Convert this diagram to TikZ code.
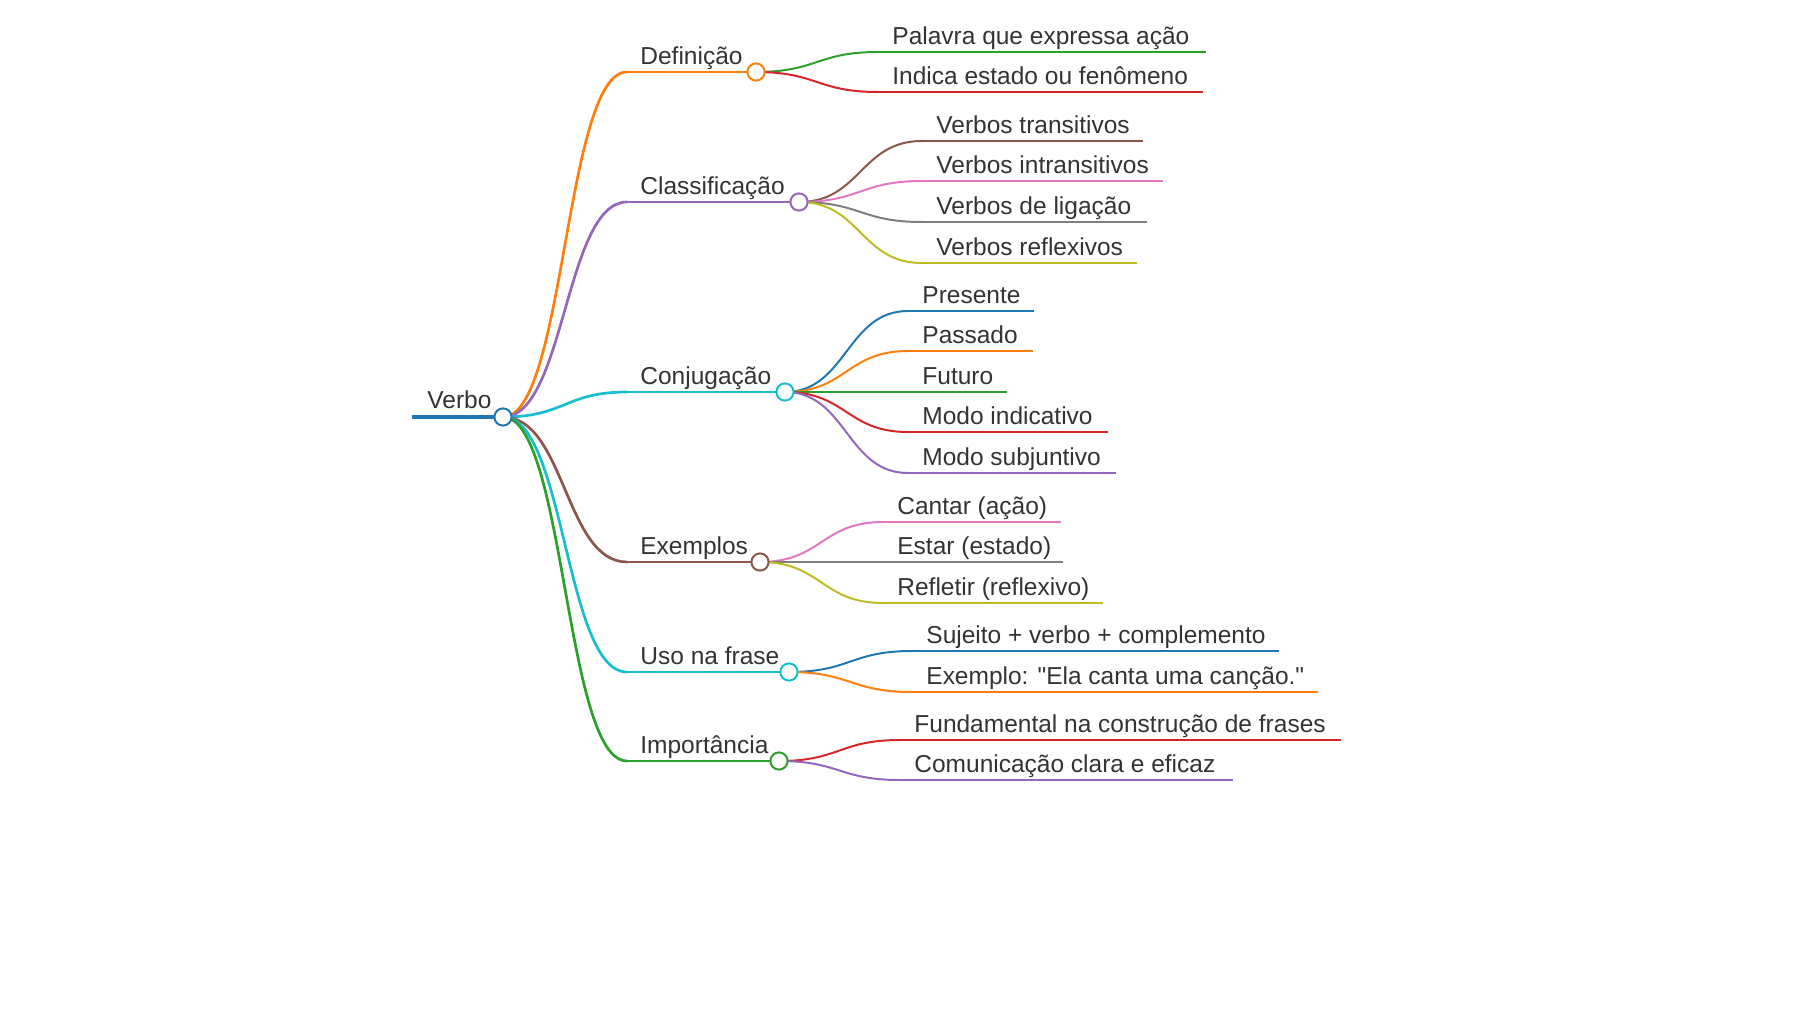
\documentclass[tikz,border=0pt]{standalone}
\usepackage{fontspec}
\setmainfont{Liberation Sans}[Ligatures=TeXOff]
\usetikzlibrary{calc}
\definecolor{c0}{HTML}{1F77B4}
\definecolor{c1}{HTML}{FF7F0E}
\definecolor{c2}{HTML}{2CA02C}
\definecolor{c3}{HTML}{D62728}
\definecolor{c4}{HTML}{9467BD}
\definecolor{c5}{HTML}{8C564B}
\definecolor{c6}{HTML}{E377C2}
\definecolor{c7}{HTML}{7F7F7F}
\definecolor{c8}{HTML}{BCBD22}
\definecolor{c9}{HTML}{17BECF}
\definecolor{txt}{HTML}{333333}
\newcommand{\mmlink}[4]{%
  \draw[#3, line width=#4, line cap=round] let \p1=(#1), \p2=(#2) in
    (\p1) .. controls ({(\x1+\x2)/2},\y1) and ({(\x1+\x2)/2},\y2) .. (\p2);}
\tikzset{
  lbl/.style={anchor=base west, inner sep=0pt, text=txt, font=\fontsize{12.25pt}{14pt}\selectfont},
  dot/.style={circle, draw=#1, fill=white, line width=1pt, minimum size=8.6pt, inner sep=0pt},
  lw0/.style={line width=1.75pt},
  lw1/.style={line width=1.35pt},
  lw2/.style={line width=1pt},
}
\begin{document}
\begin{tikzpicture}[x=0.5pt, y=-0.5pt]
\useasboundingbox (0,0) rectangle (1800,1012);
% ---- coordinates
\coordinate (root-s) at (412,417); \coordinate (root) at (503,417);
\coordinate (def-s) at (627,72);   \coordinate (def) at (756,72);
\coordinate (cla-s) at (627,202);  \coordinate (cla) at (799,202);
\coordinate (con-s) at (627,392);  \coordinate (con) at (785,392);
\coordinate (exe-s) at (627,562);  \coordinate (exe) at (760,562);
\coordinate (uso-s) at (627,672);  \coordinate (uso) at (789,672);
\coordinate (imp-s) at (627,761);  \coordinate (imp) at (779,761);
% leaves
\coordinate (a1-s) at (878,52);  \coordinate (a1-e) at (1206,52);
\coordinate (a2-s) at (878,92);  \coordinate (a2-e) at (1203,92);
\coordinate (b1-s) at (922,141); \coordinate (b1-e) at (1143,141);
\coordinate (b2-s) at (922,181); \coordinate (b2-e) at (1163,181);
\coordinate (b3-s) at (922,222); \coordinate (b3-e) at (1147,222);
\coordinate (b4-s) at (922,263); \coordinate (b4-e) at (1137,263);
\coordinate (d1-s) at (908,311); \coordinate (d1-e) at (1034,311);
\coordinate (d2-s) at (908,351); \coordinate (d2-e) at (1033,351);
\coordinate (d3-s) at (908,392); \coordinate (d3-e) at (1007,392);
\coordinate (d4-s) at (908,432); \coordinate (d4-e) at (1108,432);
\coordinate (d5-s) at (908,473); \coordinate (d5-e) at (1116,473);
\coordinate (e1-s) at (883,522); \coordinate (e1-e) at (1061,522);
\coordinate (e2-s) at (883,562); \coordinate (e2-e) at (1063,562);
\coordinate (e3-s) at (883,603); \coordinate (e3-e) at (1103,603);
\coordinate (f1-s) at (912,651); \coordinate (f1-e) at (1279,651);
\coordinate (f2-s) at (912,692); \coordinate (f2-e) at (1318,692);
\coordinate (g1-s) at (900,740); \coordinate (g1-e) at (1341,740);
\coordinate (g2-s) at (900,780); \coordinate (g2-e) at (1233,780);
% ---- links
\mmlink{root}{def-s}{c1}{1.35pt}
\mmlink{root}{cla-s}{c4}{1.35pt}
\mmlink{root}{con-s}{c9}{1.35pt}
\mmlink{root}{exe-s}{c5}{1.35pt}
\mmlink{root}{uso-s}{c9}{1.35pt}
\mmlink{root}{imp-s}{c2}{1.35pt}
\mmlink{def}{a1-s}{c2}{1pt}
\mmlink{def}{a2-s}{c3}{1pt}
\mmlink{cla}{b1-s}{c5}{1pt}
\mmlink{cla}{b2-s}{c6}{1pt}
\mmlink{cla}{b3-s}{c7}{1pt}
\mmlink{cla}{b4-s}{c8}{1pt}
\mmlink{con}{d1-s}{c0}{1pt}
\mmlink{con}{d2-s}{c1}{1pt}
\mmlink{con}{d3-s}{c2}{1pt}
\mmlink{con}{d4-s}{c3}{1pt}
\mmlink{con}{d5-s}{c4}{1pt}
\mmlink{exe}{e1-s}{c6}{1pt}
\mmlink{exe}{e2-s}{c7}{1pt}
\mmlink{exe}{e3-s}{c8}{1pt}
\mmlink{uso}{f1-s}{c0}{1pt}
\mmlink{uso}{f2-s}{c1}{1pt}
\mmlink{imp}{g1-s}{c3}{1pt}
\mmlink{imp}{g2-s}{c4}{1pt}
% ---- underlines
\draw[c0, lw0] (root-s) -- (root);
\draw[c1, lw1] (def-s) -- (def);
\draw[c4, lw1] (cla-s) -- (cla);
\draw[c9, lw1] (con-s) -- (con);
\draw[c5, lw1] (exe-s) -- (exe);
\draw[c9, lw1] (uso-s) -- (uso);
\draw[c2, lw1] (imp-s) -- (imp);
\draw[c2, lw2] (a1-s) -- (a1-e);
\draw[c3, lw2] (a2-s) -- (a2-e);
\draw[c5, lw2] (b1-s) -- (b1-e);
\draw[c6, lw2] (b2-s) -- (b2-e);
\draw[c7, lw2] (b3-s) -- (b3-e);
\draw[c8, lw2] (b4-s) -- (b4-e);
\draw[c0, lw2] (d1-s) -- (d1-e);
\draw[c1, lw2] (d2-s) -- (d2-e);
\draw[c2, lw2] (d3-s) -- (d3-e);
\draw[c3, lw2] (d4-s) -- (d4-e);
\draw[c4, lw2] (d5-s) -- (d5-e);
\draw[c6, lw2] (e1-s) -- (e1-e);
\draw[c7, lw2] (e2-s) -- (e2-e);
\draw[c8, lw2] (e3-s) -- (e3-e);
\draw[c0, lw2] (f1-s) -- (f1-e);
\draw[c1, lw2] (f2-s) -- (f2-e);
\draw[c3, lw2] (g1-s) -- (g1-e);
\draw[c4, lw2] (g2-s) -- (g2-e);
% ---- circles
\node[dot=c0] (root-c) at (root) {};
\node[dot=c1] (def-c) at (def) {};
\node[dot=c4] (cla-c) at (cla) {};
\node[dot=c9] (con-c) at (con) {};
\node[dot=c5] (exe-c) at (exe) {};
\node[dot=c9] (uso-c) at (uso) {};
\node[dot=c2] (imp-c) at (imp) {};
% ---- labels
\node[lbl] (root-t) at ([shift={(15,-9)}]root-s) {Verbo};
\node[lbl] (def-t) at ([shift={(13,-8)}]def-s) {Definição};
\node[lbl] (cla-t) at ([shift={(13,-8)}]cla-s) {Classificação};
\node[lbl] (con-t) at ([shift={(13,-8)}]con-s) {Conjugação};
\node[lbl] (exe-t) at ([shift={(13,-8)}]exe-s) {Exemplos};
\node[lbl] (uso-t) at ([shift={(13,-8)}]uso-s) {Uso na frase};
\node[lbl] (imp-t) at ([shift={(13,-8)}]imp-s) {Importância};
\node[lbl] (a1-t) at ([shift={(14,-8)}]a1-s) {Palavra que expressa ação};
\node[lbl] (a2-t) at ([shift={(14,-8)}]a2-s) {Indica estado ou fenômeno};
\node[lbl] (b1-t) at ([shift={(14,-8)}]b1-s) {Verbos transitivos};
\node[lbl] (b2-t) at ([shift={(14,-8)}]b2-s) {Verbos intransitivos};
\node[lbl] (b3-t) at ([shift={(14,-8)}]b3-s) {Verbos de ligação};
\node[lbl] (b4-t) at ([shift={(14,-8)}]b4-s) {Verbos reflexivos};
\node[lbl] (d1-t) at ([shift={(14,-8)}]d1-s) {Presente};
\node[lbl] (d2-t) at ([shift={(14,-8)}]d2-s) {Passado};
\node[lbl] (d3-t) at ([shift={(14,-8)}]d3-s) {Futuro};
\node[lbl] (d4-t) at ([shift={(14,-8)}]d4-s) {Modo indicativo};
\node[lbl] (d5-t) at ([shift={(14,-8)}]d5-s) {Modo subjuntivo};
\node[lbl] (e1-t) at ([shift={(14,-8)}]e1-s) {Cantar (ação)};
\node[lbl] (e2-t) at ([shift={(14,-8)}]e2-s) {Estar (estado)};
\node[lbl] (e3-t) at ([shift={(14,-8)}]e3-s) {Refletir (reflexivo)};
\node[lbl] (f1-t) at ([shift={(14,-8)}]f1-s) {Sujeito + verbo + complemento};
\node[lbl] (f2-t) at ([shift={(14,-8)}]f2-s) {Exemplo: "Ela canta uma canção."};
\node[lbl] (g1-t) at ([shift={(14,-8)}]g1-s) {Fundamental na construção de frases};
\node[lbl] (g2-t) at ([shift={(14,-8)}]g2-s) {Comunicação clara e eficaz};
\end{tikzpicture}
\end{document}
